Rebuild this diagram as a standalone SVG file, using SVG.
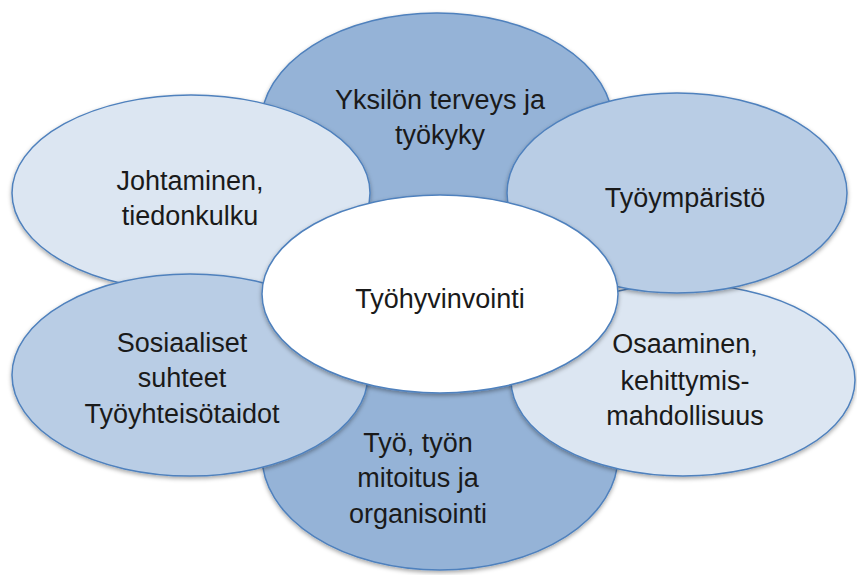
<svg xmlns="http://www.w3.org/2000/svg" width="857" height="575" viewBox="0 0 857 575">
<defs>
<filter id="sh" x="-10%" y="-10%" width="120%" height="125%">
<feDropShadow dx="0" dy="2" stdDeviation="2" flood-color="#000" flood-opacity="0.35"/>
</filter>
</defs>
<style>
.e{stroke:#4f81bd;stroke-width:1.5;filter:url(#sh)}
.dark{fill:#95b3d7}
.mid{fill:#b9cde5}
.light{fill:#dce6f2}
.ctr{fill:#ffffff}
text{font-family:"Liberation Sans",Arial,sans-serif;font-size:27px;fill:#1a1a1a;text-anchor:middle}
</style>
<rect width="857" height="575" fill="#ffffff"/>
<g id="connectors"/>
<g id="yksilon">
<ellipse class="e dark" cx="437" cy="124" rx="176" ry="111"/>
<text x="440" y="109">Yksilön terveys ja</text>
<text x="440" y="144">työkyky</text>
</g>
<g id="tyo">
<ellipse class="e dark" cx="440" cy="456" rx="178" ry="114"/>
<text x="418" y="452">Työ, työn</text>
<text x="418" y="487">mitoitus ja</text>
<text x="418" y="523">organisointi</text>
</g>
<g id="johtaminen">
<ellipse class="e light" cx="191" cy="193" rx="179" ry="98"/>
<text x="190" y="190">Johtaminen,</text>
<text x="190" y="225">tiedonkulku</text>
</g>
<g id="osaaminen">
<ellipse class="e light" cx="683" cy="380" rx="172" ry="96"/>
<text x="685" y="353">Osaaminen,</text>
<text x="685" y="390">kehittymis-</text>
<text x="685" y="425">mahdollisuus</text>
</g>
<g id="sosiaaliset">
<ellipse class="e mid" cx="190" cy="375" rx="178" ry="101"/>
<text x="182" y="352">Sosiaaliset</text>
<text x="182" y="387">suhteet</text>
<text x="182" y="423">Työyhteisötaidot</text>
</g>
<g id="tyoymparisto">
<ellipse class="e mid" cx="677" cy="193" rx="170" ry="100"/>
<text x="685" y="207">Työympäristö</text>
</g>
<g id="tyohyvinvointi">
<ellipse class="e ctr" cx="440" cy="294" rx="178" ry="99"/>
<text x="440" y="308">Työhyvinvointi</text>
</g>
</svg>
